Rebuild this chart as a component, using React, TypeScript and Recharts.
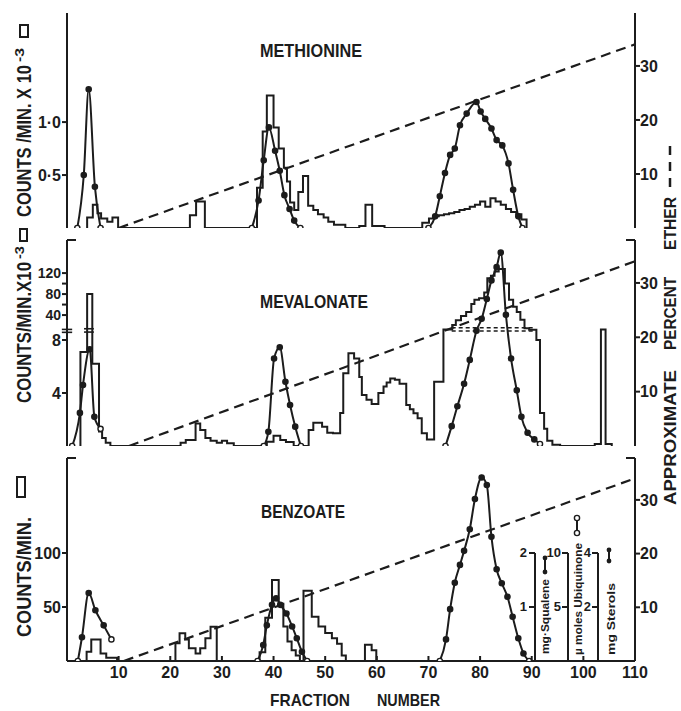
import React from "react";
import { ComposedChart, Line, XAxis, YAxis, ReferenceLine } from "recharts";

type Pair = [number, number];
type Tick = { at: number; label?: string; size?: number; stub?: boolean };

const INK = "#1c1c1c";
const FONT = "'Liberation Sans', Arial, sans-serif";

const FRACTION_TICKS = [10, 20, 30, 40, 50, 60, 70, 80, 90, 100, 110];
const ETHER_TICKS = [10, 20, 30];

// ---- METHIONINE (counts/min x 10^-3) ----
const methionineCounts: Pair[] = [
  [3.9, 0.1], [5.0, 0.22], [5.9, 0.14], [6.6, 0.09], [7.8, 0.06], [8.8, 0.1], [9.9, 0],
  [23.8, 0.12], [25.0, 0.25], [26.7, 0],
  [36.8, 0.38], [37.9, 0.91], [38.7, 1.25], [40.0, 0.95], [41.0, 0.75], [42.0, 0.57],
  [42.6, 0.44], [43.2, 0.24], [44.0, 0.17], [44.8, 0.34], [45.7, 0.49], [46.7, 0.21],
  [47.7, 0.17], [48.6, 0.13], [49.7, 0.1], [50.6, 0.06], [51.7, 0.03], [53.9, 0],
  [56.6, 0.02], [57.8, 0.22], [59.1, 0.02], [61.5, 0],
  [68.8, 0.05], [70.1, 0.09], [71, 0.11], [72, 0.12], [73, 0.13], [74, 0.14], [75, 0.15],
  [76, 0.17], [77, 0.18], [78, 0.2], [79, 0.22], [80, 0.25], [81, 0.2], [82, 0.28],
  [83, 0.25], [84, 0.22], [85, 0.18], [86, 0.15], [87, 0.13], [88, 0.08], [89, 0],
];
const methionineCurves: Pair[][] = [
  [[2.0, 0], [3.25, 0.5], [4.2, 1.31], [5.4, 0.39], [6.5, 0]],
  [[35.8, 0], [37.1, 0.26], [38.1, 0.64], [39.1, 0.95], [40.3, 0.73], [41.2, 0.54],
   [42.1, 0.31], [43.1, 0.18], [44.0, 0.07], [45.2, 0]],
  [[70.0, 0], [71.3, 0.11], [72.2, 0.3], [73.2, 0.52], [74.2, 0.69], [75.1, 0.75],
   [76.1, 0.97], [77.4, 1.08], [79.3, 1.19], [80.1, 1.1], [81.0, 1.03], [82.2, 0.94],
   [83.2, 0.83], [84.3, 0.78], [85.5, 0.61], [86.4, 0.36], [87.4, 0.11], [88.2, 0]],
];
const methionineEther: Pair[] = [[10, 0], [110, 34]];

// ---- MEVALONATE (counts/min x 10^-3, broken axis above 8) ----
const mevalonateCounts: Pair[] = [
  [2.6, 7.1], [3.9, 80], [4.9, 6.2], [6.2, 1.1], [6.8, 0.6], [7.5, 0.25], [8.4, 0],
  [22.0, 0.25], [23.0, 0.45], [24.9, 1.7], [25.8, 1.2], [26.8, 0.6], [27.8, 0.4],
  [29.0, 0.25], [30.0, 0.4], [31.0, 0.2], [32.3, 0],
  [38.7, 0.33], [40.0, 0.78], [41.3, 0.45], [42.4, 0.3], [43.9, 0],
  [46.8, 1.2], [47.7, 1.76], [49.4, 1.46], [50.4, 1.0], [51.5, 0.96], [52.9, 2.5],
  [53.5, 5.5], [54.5, 7.0], [55.6, 6.6], [56.6, 5.2], [57.1, 3.85], [58.0, 3.5],
  [59.0, 3.17], [60.3, 4.0], [61.3, 4.5], [61.9, 4.8], [62.6, 5.1], [63.5, 5.0],
  [64.4, 4.7], [65.7, 3.1], [66.4, 2.77], [67.1, 2.47], [67.9, 2.1], [68.7, 0.96],
  [69.7, 0.5], [71.1, 4.85], [72.9, 12.7], [74.6, 21], [75.3, 30], [76.3, 38],
  [77.3, 46], [78.3, 61], [78.9, 69], [79.8, 72], [80.8, 83], [81.4, 110], [82.1, 115],
  [82.8, 123], [83.6, 128], [84.8, 100], [85.6, 69], [86.4, 56], [87.1, 46], [87.8, 31],
  [88.6, 15], [89.5, 12], [90.9, 8], [91.6, 2.5], [92.4, 1.3], [93.0, 0.4], [94.0, 0.1],
  [95.5, 0],
  [102.2, 0.15], [103.4, 12.7], [104.3, 0.15], [105.5, 0],
];
const mevalonateCurves: Pair[][] = [
  [[1.0, 0], [2.5, 2.5], [3.1, 4.6], [4.4, 7.3], [5.3, 2.2], [6.5, 1.3]],
  [[38.1, 0], [39.0, 1.08], [40.1, 6.6], [41.2, 7.45], [42.3, 4.85], [43.2, 3.1],
   [44.2, 1.46], [45.3, 0]],
  [[73.3, 0], [74.5, 1.5], [75.6, 3.0], [76.9, 4.7], [78.0, 6.5], [79.3, 8.7], [80.3, 9.6],
   [81.3, 11.1], [82.2, 12.5], [83.2, 13.5], [84.0, 14.6], [85.0, 9.9], [86.0, 6.6],
   [87.1, 4.2], [88.0, 2.2], [89.2, 1.0], [90.5, 0.5], [91.6, 0.15]],
];
const mevalonateEther: Pair[] = [[12, 0], [110, 34]];

// ---- BENZOATE (counts/min) ----
const benzoateCounts: Pair[] = [
  [3.8, 8.6], [4.7, 20], [6.5, 7], [7.6, 3], [9.7, 0],
  [21.0, 16.4], [21.8, 25.6], [22.9, 20], [23.6, 11.7], [24.9, 7], [25.8, 11.7],
  [26.8, 21], [27.8, 31.8], [29.0, 0],
  [37.3, 8], [38.4, 40], [39.7, 75], [41.0, 53], [41.9, 32], [42.7, 18], [43.5, 10],
  [44.3, 5], [45.1, 0],
  [45.8, 65], [47.4, 41], [48.7, 32], [50.0, 26], [51.3, 21], [52.3, 16], [53.2, 5], [54.0, 0],
  [57.7, 15], [59.0, 10], [59.9, 0],
];
const benzoateCurves: Pair[][] = [
  [[2.1, 0], [2.9, 22], [4.2, 63], [5.5, 47], [7.1, 33], [8.6, 20]],
  [[36.9, 0], [38.0, 14.8], [38.7, 33], [39.7, 52], [40.5, 58], [41.3, 52], [42.5, 44],
   [43.6, 32], [44.5, 21], [45.5, 8.6], [46.5, 0]],
  [[72.2, 0], [73.4, 20], [74.2, 48], [75.1, 72.5], [76.1, 89], [76.9, 102], [78.0, 122],
   [79.0, 150], [80.3, 170], [81.3, 163], [82.2, 115], [83.2, 85], [84.2, 72], [85.3, 59.5],
   [86.3, 41], [87.4, 21], [88.4, 7], [89.5, 0]],
];
const benzoateEther: Pair[] = [[11, 0], [110, 34]];

// broken axis of the mevalonate panel: linear to 8, compressed above
const mevScale = (v: number) => (v <= 8 ? v : 8.3 + 0.0396 * v);

const steps = (p: Pair[]) => [{ f: p[0][0], v: 0 }, ...p.map(([f, v]) => ({ f, v }))];
const pts = (p: Pair[]) => p.map(([f, v]) => ({ f, v }));
const findTick = (ticks: Tick[], v: number) => ticks.find((t) => Math.abs(t.at - v) < 1e-6);

const txt = { fontFamily: FONT, fontWeight: 700, fill: INK } as const;

const leftTick = (ticks: Tick[]) => (p: any) => {
  const t = findTick(ticks, p.payload.value);
  if (!t) return <g />;
  if (t.stub) return <line x1={p.x} x2={p.x + 9} y1={p.y} y2={p.y} stroke={INK} strokeWidth={2} />;
  return (
    <g>
      <line x1={p.x - 5} x2={p.x} y1={p.y} y2={p.y} stroke={INK} strokeWidth={2} />
      {t.label && (
        <text x={p.x - 6} y={p.y} dy="0.36em" textAnchor="end" fontSize={t.size ?? 16} {...txt}>
          {t.label}
        </text>
      )}
    </g>
  );
};

const rightTick = (ticks: Tick[]) => (p: any) => {
  const t = findTick(ticks, p.payload.value);
  if (!t) return <g />;
  if (t.stub) return <line x1={p.x - 9} x2={p.x} y1={p.y} y2={p.y} stroke={INK} strokeWidth={2} />;
  return (
    <g>
      <line x1={p.x} x2={p.x + 5} y1={p.y} y2={p.y} stroke={INK} strokeWidth={2} />
      <text x={p.x + 5} y={p.y} dy="0.36em" textAnchor="start" fontSize={16} {...txt}>
        {t.label}
      </text>
    </g>
  );
};

const bottomTick = (labels: boolean) => (p: any) => (
  <g>
    <line x1={p.x} x2={p.x} y1={p.y} y2={p.y - 5} stroke={INK} strokeWidth={2} />
    {labels && (
      <text x={p.x} y={p.y + 17} textAnchor="middle" fontSize={16} {...txt}>
        {p.payload.value}
      </text>
    )}
  </g>
);

const topTick = (p: any) => (
  <line x1={p.x} x2={p.x} y1={p.y} y2={p.y + 5} stroke={INK} strokeWidth={2} />
);

const dotFor = (n: number) => (p: any) => {
  const open = p.index === 0 || p.index === n - 1;
  return (
    <circle key={`d${p.index}`} cx={p.cx} cy={p.cy} r={2.6}
      fill={open ? "#fff" : INK} stroke={INK} strokeWidth={1.4} />
  );
};

const ethTicks = (max: number, stub: boolean): Tick[] => [
  ...ETHER_TICKS.map((e) => ({ at: e, label: String(e) })),
  ...(stub ? [{ at: max, stub: true }] : []),
];

interface PanelProps {
  top: number;
  height: number;
  mTop: number;
  mBottom: number;
  xHeight: number;
  leftMax: number;
  rightMax: number;
  leftTicks: Tick[];
  boxTop?: boolean;
  xLabels?: boolean;
  counts: Pair[];
  curves: Pair[][];
  ether: Pair[];
  scale?: (v: number) => number;
  children?: React.ReactNode;
}

function Panel(props: PanelProps) {
  const { top, height, mTop, mBottom, xHeight, leftMax, rightMax, leftTicks, boxTop, xLabels,
    counts, curves, ether, scale, children } = props;
  const rTicks = ethTicks(rightMax, !boxTop);
  const xTicks = xLabels ? FRACTION_TICKS : FRACTION_TICKS.slice(0, 10);
  const axisLine = { stroke: INK, strokeWidth: 2 };
  return (
    <div style={{ position: "absolute", left: 0, top }}>
      <ComposedChart width={681} height={height} margin={{ top: mTop, right: 0, bottom: mBottom, left: 0 }}>
        <XAxis dataKey="f" type="number" domain={[0, 110]} ticks={xTicks} interval={0}
          tickSize={0} tickMargin={0} tickLine={false} tick={bottomTick(!!xLabels)}
          axisLine={axisLine} height={xHeight} allowDataOverflow />
        {boxTop && (
          <XAxis xAxisId="top" orientation="top" dataKey="f" type="number" domain={[0, 110]}
            ticks={FRACTION_TICKS.slice(0, 10)} interval={0} tickSize={0} tickMargin={0}
            tickLine={false} tick={topTick} axisLine={axisLine} height={0} allowDataOverflow />
        )}
        <YAxis yAxisId="left" type="number" domain={[0, leftMax]} ticks={leftTicks.map((t) => t.at)}
          interval={0} tickSize={0} tickMargin={0} tickLine={false} tick={leftTick(leftTicks)}
          axisLine={axisLine} width={67} allowDataOverflow />
        <YAxis yAxisId="right" orientation="right" type="number" domain={[0, rightMax]}
          ticks={rTicks.map((t) => t.at)} interval={0} tickSize={0} tickMargin={0} tickLine={false}
          tick={rightTick(rTicks)} axisLine={axisLine} width={46} allowDataOverflow />
        {children}
        <Line yAxisId="right" data={pts(ether)} dataKey="v" type="linear" stroke={INK}
          strokeWidth={2.2} strokeDasharray="10 6" dot={false} activeDot={false} isAnimationActive={false} />
        <Line yAxisId="left" data={steps(counts)}
          dataKey={scale ? (d: any) => scale(d.v) : "v"} type="stepAfter" stroke={INK}
          strokeWidth={2} dot={false} activeDot={false} isAnimationActive={false} />
        {curves.map((c, i) => (
          <Line key={i} yAxisId="left" data={pts(c)} dataKey="v" type="monotone" stroke={INK}
            strokeWidth={2} dot={dotFor(c.length)} activeDot={false} isAnimationActive={false} />
        ))}
      </ComposedChart>
    </div>
  );
}

const rot = (x: number, y: number) => `translate(${x},${y}) rotate(-90)`;

function Labels() {
  return (
    <svg width={681} height={711} style={{ position: "absolute", left: 0, top: 0, pointerEvents: "none" }}>
      {/* titles */}
      <text x={260} y={57} fontSize={19} textLength={102} lengthAdjust="spacingAndGlyphs" {...txt}>METHIONINE</text>
      <text x={260} y={308} fontSize={19} textLength={108} lengthAdjust="spacingAndGlyphs" {...txt}>MEVALONATE</text>
      <text x={261} y={518} fontSize={19} textLength={84} lengthAdjust="spacingAndGlyphs" {...txt}>BENZOATE</text>

      {/* left axis titles */}
      <text transform={rot(31, 217)} fontSize={21} textLength={152} lengthAdjust="spacingAndGlyphs" {...txt}>COUNTS /MIN. X 10</text>
      <text transform={rot(24, 62)} fontSize={13} textLength={14} lengthAdjust="spacingAndGlyphs" {...txt}>-3</text>
      <rect x={20} y={25} width={8} height={12} fill="none" stroke={INK} strokeWidth={2} />

      <text transform={rot(31, 403)} fontSize={21} textLength={141} lengthAdjust="spacingAndGlyphs" {...txt}>COUNTS/MIN.X10</text>
      <text transform={rot(24, 259)} fontSize={13} textLength={13} lengthAdjust="spacingAndGlyphs" {...txt}>-3</text>
      <rect x={20} y={229} width={7} height={12} fill="none" stroke={INK} strokeWidth={2} />

      <text transform={rot(31, 637)} fontSize={21} textLength={120} lengthAdjust="spacingAndGlyphs" {...txt}>COUNTS/MIN.</text>
      <rect x={17} y={477} width={8} height={20} fill="none" stroke={INK} strokeWidth={2} />

      {/* right axis title */}
      <text transform={rot(676, 505)} fontSize={16} textLength={135} lengthAdjust="spacingAndGlyphs" {...txt}>APPROXIMATE</text>
      <text transform={rot(676, 350)} fontSize={16} textLength={73} lengthAdjust="spacingAndGlyphs" {...txt}>PERCENT</text>
      <text transform={rot(676, 250)} fontSize={16} textLength={53} lengthAdjust="spacingAndGlyphs" {...txt}>ETHER</text>
      <line x1={670} x2={670} y1={187} y2={140} stroke={INK} strokeWidth={2.5} strokeDasharray="9 7" />

      {/* x axis title */}
      <text x={270} y={706} fontSize={17} textLength={80} lengthAdjust="spacingAndGlyphs" {...txt}>FRACTION</text>
      <text x={377} y={706} fontSize={17} textLength={63} lengthAdjust="spacingAndGlyphs" {...txt}>NUMBER</text>

      {/* inset scales, benzoate panel */}
      <g stroke={INK} strokeWidth={2} fill="none">
        <line x1={535} x2={535} y1={553} y2={661} />
        <line x1={529} x2={535} y1={553} y2={553} />
        <line x1={529} x2={535} y1={607} y2={607} />
        <line x1={568} x2={568} y1={553} y2={661} />
        <line x1={562} x2={568} y1={553} y2={553} />
        <line x1={562} x2={568} y1={607} y2={607} />
        <line x1={598} x2={598} y1={553} y2={661} />
        <line x1={592} x2={598} y1={553} y2={553} />
        <line x1={592} x2={598} y1={607} y2={607} />
        <line x1={545} x2={545} y1={558} y2={572} />
        <line x1={577} x2={577} y1={518} y2={533} />
        <line x1={609} x2={609} y1={550} y2={561} />
      </g>
      <circle cx={545} cy={558} r={2.4} fill={INK} />
      <circle cx={545} cy={572} r={2.4} fill={INK} />
      <circle cx={577} cy={518} r={2.6} fill="#fff" stroke={INK} strokeWidth={1.4} />
      <circle cx={577} cy={533} r={2.6} fill="#fff" stroke={INK} strokeWidth={1.4} />
      <circle cx={609} cy={550} r={2.4} fill={INK} />
      <circle cx={609} cy={561} r={2.4} fill={INK} />
      <text x={527} y={557} fontSize={13} textAnchor="end" {...txt}>2</text>
      <text x={527} y={611} fontSize={13} textAnchor="end" {...txt}>1</text>
      <text x={561} y={557} fontSize={13} textAnchor="end" {...txt}>10</text>
      <text x={561} y={611} fontSize={13} textAnchor="end" {...txt}>5</text>
      <text x={591} y={557} fontSize={13} textAnchor="end" {...txt}>4</text>
      <text x={591} y={611} fontSize={13} textAnchor="end" {...txt}>2</text>
      <text transform={rot(549, 654)} fontSize={11} textLength={75} lengthAdjust="spacingAndGlyphs" {...txt}>mg·Squalene</text>
      <text transform={rot(582, 655)} fontSize={11} textLength={112} lengthAdjust="spacingAndGlyphs" {...txt}>µ moles Ubiquinone</text>
      <text transform={rot(615, 655)} fontSize={11} textLength={72} lengthAdjust="spacingAndGlyphs" {...txt}>mg Sterols</text>
    </svg>
  );
}

export default function App() {
  const methTicks: Tick[] = [{ at: 0.5, label: "0·5" }, { at: 1, label: "1·0" }];
  const mevTicks: Tick[] = [
    { at: 4, label: "4" },
    { at: 8, label: "8" },
    { at: mevScale(40), label: "40", size: 14 },
    { at: mevScale(60) },
    { at: mevScale(80), label: "80", size: 14 },
    { at: mevScale(100) },
    { at: mevScale(120), label: "120", size: 14 },
    { at: 15.55, stub: true },
  ];
  const benzTicks: Tick[] = [{ at: 50, label: "50" }, { at: 100, label: "100" }, { at: 188, stub: true }];
  const seg = (x1: number, x2: number, y: number) => [{ x: x1, y }, { x: x2, y }];

  return (
    <div style={{ position: "absolute", left: 0, top: 0, width: 681, height: 711, background: "#fff", overflow: "hidden" }}>
      <Panel top={0} height={240} mTop={13} mBottom={12} xHeight={0} leftMax={2.03} rightMax={39.8}
        leftTicks={methTicks} boxTop counts={methionineCounts} curves={methionineCurves} ether={methionineEther} />
      <Panel top={228} height={232} mTop={12} mBottom={14} xHeight={0} leftMax={15.55} rightMax={37.9}
        leftTicks={mevTicks} counts={mevalonateCounts} curves={mevalonateCurves} ether={mevalonateEther}
        scale={mevScale}>
        <ReferenceLine yAxisId="left" segment={seg(74.5, 90.6, 8.93)} stroke={INK} strokeWidth={1.6} strokeDasharray="4 3" ifOverflow="visible" />
        <ReferenceLine yAxisId="left" segment={seg(74.5, 90.6, 8.68)} stroke={INK} strokeWidth={1.6} strokeDasharray="4 3" ifOverflow="visible" />
        <ReferenceLine yAxisId="left" segment={seg(-1, 1, 8.8)} stroke={INK} strokeWidth={1.6} ifOverflow="visible" />
        <ReferenceLine yAxisId="left" segment={seg(-1, 1, 8.58)} stroke={INK} strokeWidth={1.6} ifOverflow="visible" />
        <ReferenceLine yAxisId="left" segment={seg(3.3, 5.2, 8.85)} stroke={INK} strokeWidth={1.6} ifOverflow="visible" />
        <ReferenceLine yAxisId="left" segment={seg(3.3, 5.2, 8.6)} stroke={INK} strokeWidth={1.6} ifOverflow="visible" />
      </Panel>
      <Panel top={446} height={265} mTop={12} mBottom={0} xHeight={50} leftMax={188} rightMax={37.8}
        leftTicks={benzTicks} xLabels counts={benzoateCounts} curves={benzoateCurves} ether={benzoateEther} />
      <Labels />
    </div>
  );
}
